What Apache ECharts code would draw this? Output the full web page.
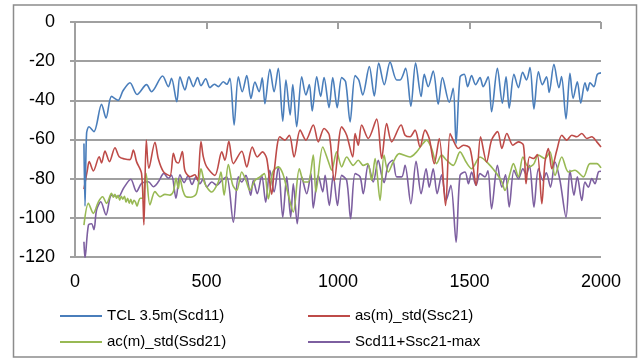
<!DOCTYPE html>
<html>
<head>
<meta charset="utf-8">
<script src="https://cdn.jsdelivr.net/npm/echarts@6/dist/echarts.min.js"></script>
<style>html,body{margin:0;padding:0;background:#fff;}#c{width:640px;height:360px;}</style>
</head>
<body>
<div id="c"></div>
<script>
const seriesNames = ['TCL 3.5m(Scd11)', 'as(m)_std(Ssc21)', 'ac(m)_std(Ssd21)', 'Scd11+Ssc21-max'];
const xTicks = [0, 500, 1000, 1500, 2000];
const yTicks = [-120, -100, -80, -60, -40, -20, 0];

const tcl = [[34,-62],[38,-94],[44,-57],[53,-53.5],[72,-56],[101,-42],[118,-49],[139,-38],[164,-40],[183,-35],[209,-31],[236,-37],[272,-32],[291,-35.6],[333,-27.6],[355,-33],[367,-28.8],[387,-40.7],[399,-28],[418,-34.7],[433,-28],[450,-33],[466,-28.4],[479,-32.5],[497,-29],[513,-33.5],[530,-31.8],[545,-33],[564,-30.5],[577,-31.8],[589,-28.8],[605,-52.6],[621,-28],[636,-35.6],[653,-27.4],[669,-39],[684,-30.6],[700,-35.6],[712,-28.5],[722,-41.7],[741,-24.2],[757,-35.6],[773,-23.6],[790,-50.6],[802,-29.6],[818,-47.5],[828,-32],[843,-53.5],[862,-28],[878,-37.3],[891,-32],[902,-45.4],[919,-28],[934,-38],[947,-28.4],[966,-43.7],[980,-28.4],[997,-43.7],[1014,-28.4],[1029,-30.5],[1046,-51],[1065,-27.4],[1079,-29.6],[1094,-37.3],[1119,-22.8],[1138,-37.8],[1155,-21],[1176,-32],[1198,-20.5],[1223,-29.6],[1236,-29.6],[1257,-23.7],[1277,-43],[1295,-21],[1316,-38],[1328,-26.7],[1343,-33],[1362,-25],[1381,-42],[1397,-28.4],[1423,-41],[1438,-33.9],[1449,-62],[1464,-28],[1480,-26.7],[1493,-33],[1508,-27.4],[1523,-32],[1540,-28.4],[1552,-33],[1571,-28],[1584,-45.8],[1606,-23.7],[1625,-41.5],[1639,-28],[1651,-44],[1669,-26.7],[1686,-33.5],[1702,-25.7],[1717,-29.6],[1730,-23.3],[1745,-44.4],[1762,-25.4],[1777,-32],[1793,-28],[1803,-36],[1821,-21.6],[1840,-33.5],[1850,-27.9],[1867,-49.5],[1882,-26.2],[1894,-39],[1910,-30.5],[1923,-41.5],[1939,-31],[1949,-35.2],[1958,-31],[1973,-33],[1986,-26.7],[2000,-26]];

const asm = [[34,-85.3],[47,-75.6],[54,-71.3],[70,-76],[92,-68.8],[101,-72],[114,-65.9],[131,-71.3],[152,-64.2],[168,-68.8],[190,-70],[209,-70.3],[222,-65.4],[234,-71.3],[253,-77.3],[262,-103.6],[271,-60.3],[281,-74.7],[304,-61.4],[317,-70],[336,-76.4],[361,-78.5],[374,-67],[384,-71.3],[393,-72],[408,-66.2],[418,-76],[437,-79],[456,-78],[466,-80.7],[479,-61],[488,-68.9],[501,-74],[532,-78.3],[558,-66.3],[570,-70.6],[585,-60.9],[602,-72.3],[634,-66],[653,-74],[674,-63.8],[693,-68.9],[713,-66.3],[729,-69.7],[748,-88],[757,-76.6],[779,-58.6],[798,-60.3],[815,-57.8],[833,-68.9],[856,-55.2],[878,-60.3],[906,-52.6],[925,-61.2],[947,-54.4],[967,-57.8],[986,-81],[1014,-53.5],[1033,-57.8],[1056,-68.9],[1065,-56.9],[1077,-62.9],[1090,-52.6],[1115,-59.5],[1147,-49.6],[1166,-69.7],[1185,-51.8],[1204,-61.2],[1240,-52.6],[1255,-57.8],[1274,-58.6],[1293,-55.2],[1312,-63.8],[1331,-55.2],[1347,-59.5],[1366,-72.3],[1385,-59.5],[1409,-93.7],[1426,-56.9],[1441,-61.2],[1457,-64.6],[1477,-62.9],[1502,-64.6],[1525,-83.4],[1542,-58.6],[1565,-71.5],[1584,-60.3],[1607,-56],[1623,-64.6],[1642,-56.9],[1665,-62.9],[1686,-61.2],[1705,-62.9],[1715,-82.6],[1728,-68.9],[1743,-69.7],[1758,-67.7],[1775,-92.8],[1787,-71.5],[1800,-64.6],[1813,-74.9],[1832,-65.5],[1851,-57.8],[1870,-60.3],[1889,-57.8],[1908,-58.6],[1927,-56.9],[1946,-59.5],[1965,-58.6],[1984,-61.2],[2000,-63.8]];

const acm = [[34,-103.7],[51,-92.6],[70,-97.7],[89,-91.8],[105,-89.2],[120,-92.6],[139,-87.5],[146,-89.5],[152,-88],[158,-90],[164,-88.5],[170,-91],[176,-89],[182,-90.5],[188,-89],[194,-92],[200,-90],[206,-92.5],[212,-90.5],[218,-93],[224,-91],[230,-92],[236,-94],[242,-91.5],[248,-90],[258,-90],[270,-77.3],[285,-93.4],[304,-86.6],[323,-89.2],[342,-88],[361,-88.4],[374,-86.6],[384,-79.8],[393,-85],[399,-80],[410,-86],[420,-89],[440,-89.5],[460,-88],[470,-82],[479,-75],[494,-82.6],[520,-86.8],[545,-81.7],[555,-76.6],[567,-88.5],[583,-72.8],[600,-83.4],[615,-86],[634,-76.6],[650,-80.9],[665,-86],[684,-80.9],[703,-79.1],[720,-77.4],[735,-90.3],[752,-76.6],[773,-74],[790,-77.4],[807,-86],[830,-97],[853,-74.9],[871,-81.7],[887,-81.7],[906,-68],[916,-86.8],[942,-63.8],[964,-71.5],[976,-75.7],[995,-66.3],[1014,-74],[1033,-68.9],[1058,-73.2],[1077,-70.6],[1096,-73.2],[1113,-72.3],[1128,-80.9],[1141,-69.7],[1160,-91.1],[1175,-68],[1191,-76.6],[1210,-71.5],[1233,-67.2],[1274,-68.9],[1299,-66.3],[1318,-62.9],[1337,-60.3],[1356,-64.6],[1375,-72.3],[1394,-68],[1413,-70.6],[1438,-73.2],[1464,-66.3],[1487,-71.5],[1508,-74.9],[1540,-68.9],[1578,-73.2],[1603,-77.4],[1623,-81.7],[1635,-86],[1654,-77.4],[1667,-72.3],[1686,-79.1],[1703,-68.9],[1724,-74],[1743,-72.8],[1762,-68],[1787,-69.7],[1806,-66.3],[1825,-78.3],[1851,-68.9],[1876,-76.6],[1901,-75.7],[1933,-79.1],[1958,-72.3],[1984,-72.3],[2000,-74.5]];

const scd = [[34,-112.2],[38,-120.5],[51,-103.7],[63,-103],[72,-106],[82,-96],[98,-91.8],[118,-98.5],[139,-88.4],[165,-89.2],[184,-85],[212,-80.3],[234,-86.6],[253,-82.4],[279,-81.6],[298,-84.1],[317,-81.6],[338,-77.3],[355,-79.8],[367,-78.2],[384,-90],[399,-78],[415,-82],[430,-78.5],[445,-83],[460,-79],[475,-82.6],[488,-80],[501,-84.3],[520,-81.7],[539,-83.4],[558,-80.9],[577,-79.1],[602,-102.2],[621,-79.1],[634,-81.7],[650,-78.3],[668,-88.5],[678,-80.9],[693,-87.7],[710,-78.3],[725,-92],[741,-75.7],[757,-86.8],[773,-74],[790,-99.7],[805,-79.1],[820,-99.7],[830,-82.6],[845,-103],[862,-79.1],[881,-87.7],[897,-77.4],[906,-95],[925,-78.3],[942,-86.8],[951,-78.3],[967,-93.7],[982,-78.3],[998,-93.7],[1014,-78.3],[1033,-80.9],[1048,-100.5],[1065,-77.4],[1084,-79.1],[1096,-87.7],[1115,-72.8],[1134,-81.7],[1153,-70.6],[1166,-78.3],[1175,-82],[1191,-72.8],[1208,-70.6],[1223,-79.1],[1242,-79.1],[1255,-73.2],[1277,-92.8],[1297,-71.1],[1316,-87.7],[1335,-74.9],[1347,-84.3],[1362,-74.9],[1377,-87.7],[1394,-78],[1411,-91.1],[1429,-83.4],[1449,-112.5],[1464,-78.3],[1483,-76.6],[1496,-82.6],[1508,-76.6],[1525,-83.4],[1540,-77.4],[1559,-79.1],[1570,-76],[1584,-95.4],[1606,-73.2],[1623,-84.3],[1637,-78],[1651,-94.5],[1669,-75.7],[1686,-80],[1703,-74.9],[1716,-78],[1728,-73.2],[1745,-94.5],[1762,-74.9],[1779,-80.9],[1792,-77],[1808,-84.3],[1825,-71.5],[1844,-80.9],[1867,-99.7],[1882,-75.7],[1897,-88.5],[1910,-79.1],[1927,-91.1],[1939,-81.7],[1952,-84.3],[1965,-80],[1977,-82.6],[1990,-76.6],[2000,-76.2]];

const colors = ['#4A7EBB', '#BE4B48', '#98B954', '#7D5FA0'];
const font = 'Liberation Sans, Arial, sans-serif';
const gray = '#a0a0a0';

const chart = echarts.init(document.getElementById('c'), null, {renderer: 'canvas'});
const allData = [tcl, asm, acm, scd];

chart.setOption({
  animation: false,
  color: colors,
  grid: [
    {left: 75, right: 39, top: 22, bottom: 103, containLabel: false},
    {left: 75, right: 39, top: 22, height: 7, containLabel: false}
  ],
  graphic: [{
    type: 'rect', silent: true,
    shape: {x: 13.5, y: 5, width: 623, height: 352},
    style: {fill: 'none', stroke: '#8c8c8c', lineWidth: 1.5}
  }],
  xAxis: [
    {
      gridIndex: 0, type: 'value', min: xTicks[0], max: xTicks[xTicks.length - 1], interval: 500, position: 'bottom',
      axisLine: {show: false, onZero: false}, axisTick: {show: false}, splitLine: {show: false},
      axisLabel: {fontSize: 18, color: '#000', margin: 16, fontFamily: font, formatter: v => String(v)}
    },
    {
      gridIndex: 1, type: 'value', min: xTicks[0], max: xTicks[xTicks.length - 1], interval: 500, position: 'top',
      axisLine: {show: false, onZero: false}, axisTick: {show: false}, axisLabel: {show: false},
      splitLine: {show: true, lineStyle: {color: gray, width: 2}}
    }
  ],
  yAxis: [
    {
      gridIndex: 0, type: 'value', min: yTicks[0], max: yTicks[yTicks.length - 1], interval: 20,
      axisLine: {show: true, onZero: false, lineStyle: {color: gray, width: 2}},
      axisTick: {show: true, length: 5, lineStyle: {color: gray, width: 2}},
      splitLine: {show: true, lineStyle: {color: gray, width: 2}},
      axisLabel: {fontSize: 18, color: '#000', margin: 20, fontFamily: font}
    },
    {
      gridIndex: 1, type: 'value', min: 0, max: 1, show: false,
      splitLine: {show: false}
    }
  ],
  legend: [
    {
      left: 60, top: 308, orient: 'vertical', padding: 0, itemGap: 10,
      itemWidth: 42, itemHeight: 2, icon: 'rect',
      data: [seriesNames[0], seriesNames[2]],
      textStyle: {fontSize: 15, lineHeight: 16, color: '#000', fontFamily: font}
    },
    {
      left: 308, top: 308, orient: 'vertical', padding: 0, itemGap: 10,
      itemWidth: 42, itemHeight: 2, icon: 'rect',
      data: [seriesNames[1], seriesNames[3]],
      textStyle: {fontSize: 15, lineHeight: 16, color: '#000', fontFamily: font}
    }
  ],
  series: seriesNames.map((n, i) => ({
    name: n, type: 'line', xAxisIndex: 0, yAxisIndex: 0, data: allData[i],
    showSymbol: false, symbol: 'none', smooth: 0.3,
    lineStyle: {width: 1.6, color: colors[i]}, z: 10 - i
  }))
});
</script>
</body>
</html>
